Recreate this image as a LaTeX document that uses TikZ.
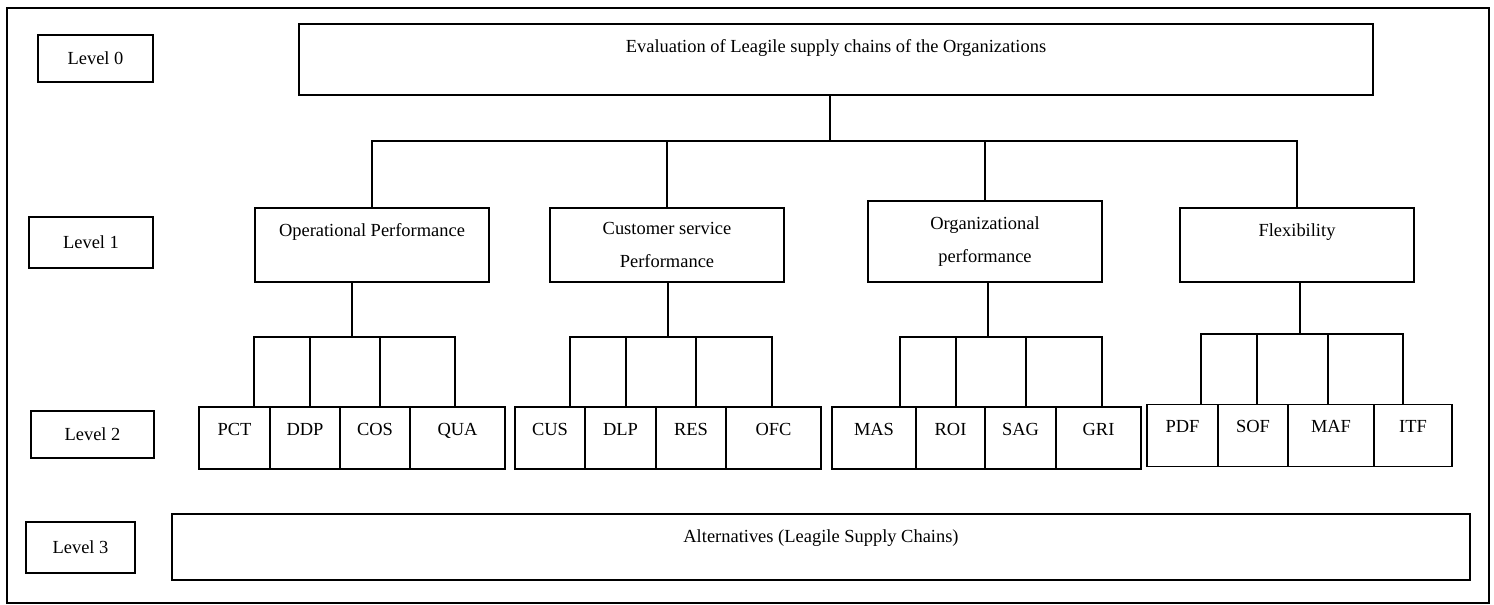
\documentclass[tikz,border=0pt]{standalone}
\usepackage{fontspec}
\setmainfont{Liberation Serif}
\tikzset{
  box/.style={draw, line width=1.1pt, inner sep=0pt, font=\fontsize{10.5}{12.6}\selectfont},
  toptext/.style={text height=0.565cm, text depth=#1},
  leaf/.style={box, toptext=0.675cm},
  twoline/.style={box, align=center, font=\fontsize{10.5}{18.7}\selectfont}
}
\begin{document}
\begin{tikzpicture}[line width=1.1pt]
\useasboundingbox (0,0) rectangle (29.88,-12.10);
\draw (0.14,-0.16) rectangle (29.78,-12.06);
% level labels
\node[box, minimum width=2.30cm, minimum height=0.94cm] (lv0) at (1.91,-1.17) {Level 0};
\node[box, minimum width=2.48cm, minimum height=1.02cm] (lv1) at (1.82,-4.85) {Level 1};
\node[box, minimum width=2.46cm, minimum height=0.94cm] (lv2) at (1.85,-8.69) {Level 2};
\node[box, minimum width=2.18cm, minimum height=1.02cm] (lv3) at (1.61,-10.95) {Level 3};
% goal
\node[box, toptext=0.855cm, minimum width=21.48cm] (goal) at (16.72,-1.19) {Evaluation of Leagile supply chains of the Organizations};
% criteria
\node[box, toptext=0.915cm, minimum width=4.68cm] (op) at (7.44,-4.90) {Operational Performance};
\node[twoline, minimum width=4.68cm, minimum height=1.48cm] (cs) at (13.34,-4.90) {Customer service\\Performance};
\node[twoline, minimum width=4.68cm, minimum height=1.62cm] (org) at (19.70,-4.83) {Organizational\\performance};
\node[box, toptext=0.915cm, minimum width=4.68cm] (flex) at (25.94,-4.90) {Flexibility};
% sub-criteria
\foreach \n/\t/\x/\w in {pct/PCT/4.69/1.42, ddp/DDP/6.10/1.40, cos/COS/7.50/1.40, qua/QUA/9.15/1.90,
  cus/CUS/11.00/1.40, dlp/DLP/12.41/1.42, res/RES/13.82/1.40, ofc/OFC/15.47/1.90,
  mas/MAS/17.48/1.68, roi/ROI/19.01/1.38, sag/SAG/20.41/1.42, gri/GRI/21.97/1.70}
  \node[leaf, minimum width=\w cm] (\n) at (\x,-8.76) {\t};
\foreach \n/\t/\x/\w in {pdf/PDF/23.65/1.42, sof/SOF/25.06/1.40, maf/MAF/26.62/1.72, itf/ITF/28.26/1.56}
  \node[leaf, minimum width=\w cm] (\n) at (\x,-8.71) {\t};
% alternatives
\node[box, toptext=0.755cm, minimum width=25.96cm] (alt) at (16.42,-10.94) {Alternatives (Leagile Supply Chains)};
% connectors
\foreach \c in {op,cs,org,flex}
  \draw ([xshift=-0.12cm]goal.south) -- ++(0,-0.90) -| (\c.north);
\foreach \b/\dx in {pct/0.39, ddp/0.10, cos/0.10, qua/-0.05}
  \draw ([xshift=-0.40cm]op.south) -- ++(0,-1.08) -| ([xshift=\dx cm]\b.north);
\foreach \b/\dx in {cus/0.40, dlp/0.11, res/0.10, ofc/-0.03}
  \draw ([xshift=0.02cm]cs.south) -- ++(0,-1.08) -| ([xshift=\dx cm]\b.north);
\foreach \b/\dx in {mas/0.52, roi/0.11, sag/0.11, gri/0.07}
  \draw ([xshift=0.06cm]org.south) -- ++(0,-1.08) -| ([xshift=\dx cm]\b.north);
\foreach \b/\dx in {pdf/0.37, sof/0.08, maf/-0.06, itf/-0.20}
  \draw ([xshift=0.06cm]flex.south) -- ++(0,-1.02) -| ([xshift=\dx cm]\b.north);
\end{tikzpicture}
\end{document}
